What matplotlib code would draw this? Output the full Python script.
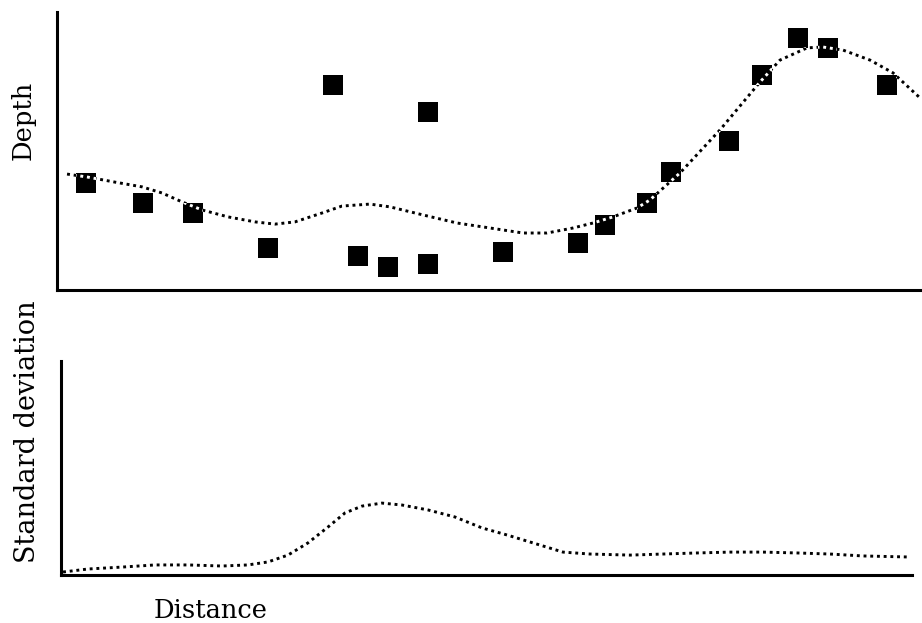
import matplotlib
matplotlib.use("Agg")
import matplotlib.pyplot as plt
import numpy as np
from matplotlib.path import Path
from matplotlib.transforms import IdentityTransform

# ---- data ----
obs_distance = [3.35, 9.94, 15.7, 24.4, 31.9, 34.8, 38.3, 42.9, 42.9, 51.6,
                60.2, 63.4, 68.2, 71.0, 77.7, 81.5, 85.7, 89.1, 96.0]
obs_depth = [38.5, 31.3, 27.7, 15.1, 73.7, 12.2, 8.3, 64.0, 9.4, 13.7,
             16.9, 23.4, 31.3, 42.4, 53.6, 77.3, 90.6, 87.1, 73.7]

fit_distance = [1.16, 3.58, 6.71, 9.83, 12.14, 14.45, 16.76, 19.77, 22.89, 25.20,
                27.51, 30.64, 32.95, 36.18, 38.50, 42.31, 46.24, 50.06, 53.87, 56.65,
                59.65, 61.97, 64.28, 67.05, 68.55, 72.02, 76.65, 81.27, 83.58, 86.71,
                88.55, 90.87, 93.99, 96.65, 99.77]
fit_depth = [41.7, 40.6, 38.8, 37.1, 34.9, 31.7, 28.8, 26.3, 24.5, 23.7,
             24.5, 27.7, 30.2, 30.9, 29.9, 27.0, 24.1, 22.3, 20.5, 20.5,
             22.3, 24.1, 26.3, 29.5, 32.4, 42.1, 57.6, 74.8, 82.7, 87.1,
             87.4, 86.3, 82.7, 78.1, 69.1]

sd_distance = [0.24, 3.17, 7.17, 11.05, 14.92, 18.92, 21.97, 24.32, 26.67, 29.02,
               31.37, 33.37, 35.37, 37.72, 40.07, 43.13, 46.30, 49.47, 52.41, 55.46,
               58.99, 62.16, 66.86, 70.74, 74.74, 78.61, 82.49, 86.49, 90.36, 94.24,
               99.76]
sd_value = [1.4, 2.8, 3.7, 4.7, 4.7, 4.2, 4.7, 6.1, 9.3, 15.0,
            22.4, 29.0, 32.2, 33.6, 32.7, 30.4, 27.1, 22.0, 18.7, 15.0,
            10.7, 9.8, 9.3, 9.8, 10.3, 10.7, 10.7, 10.3, 9.8, 8.9,
            8.4]

W, H = 922, 623
fig = plt.figure(figsize=(W / 100, H / 100), dpi=100)
fig.patch.set_facecolor("white")

def px_axes(left, top, right, bottom):
    return fig.add_axes([left / W, 1 - bottom / H, (right - left) / W, (bottom - top) / H])

dot_style = dict(linestyle=(0, (1, 1.3)), linewidth=2.1, dash_capstyle="butt")

ax1 = px_axes(57, 12, 922, 290)
ax2 = px_axes(61, 361, 912, 575)

for ax in (ax1, ax2):
    ax.set_xlim(0, 100)
    ax.set_ylim(0, 100)
    ax.set_xticks([])
    ax.set_yticks([])
    for s in ("top", "right"):
        ax.spines[s].set_visible(False)
    for s in ("left", "bottom"):
        ax.spines[s].set_linewidth(2.2)
        ax.spines[s].set_color("black")
    ax.patch.set_visible(False)

msize = 14
# top panel
ax1.plot(fit_distance, fit_depth, color="black", zorder=2, clip_on=False, **dot_style)
ax1.plot(obs_distance, obs_depth, linestyle="none", marker="s", markersize=msize,
         markerfacecolor="black", markeredgecolor="black", markeredgewidth=0, zorder=3)

# white dots where the curve crosses the squares
fig.canvas.draw()
half = msize / 72 * 100 / 2
centers = ax1.transData.transform(np.column_stack([obs_distance, obs_depth]))
rects = [Path([(cx - half, cy - half), (cx + half, cy - half), (cx + half, cy + half),
               (cx - half, cy + half), (cx - half, cy - half)],
              [Path.MOVETO, Path.LINETO, Path.LINETO, Path.LINETO, Path.CLOSEPOLY])
         for cx, cy in centers]
clip = Path.make_compound_path(*rects)
wl, = ax1.plot(fit_distance, fit_depth, color="white", zorder=4, **dot_style)
wl.set_clip_path(clip, IdentityTransform())

# bottom panel
ax2.plot(sd_distance, sd_value, color="black", clip_on=False, **dot_style)

font = dict(family="DejaVu Serif", color="black")
fig.text(23 / W, 1 - 120 / H, "Depth", rotation=90, ha="center", va="center",
         fontsize=18.5, **font)
fig.text(28 / W, 1 - 432 / H, "Standard deviation", rotation=90, ha="center", va="center",
         fontsize=19.5, **font)
fig.text(211 / W, 1 - 611 / H, "Distance", ha="center", va="center", fontsize=18.5, **font)

fig.savefig("out.png", dpi=100, facecolor="white")
